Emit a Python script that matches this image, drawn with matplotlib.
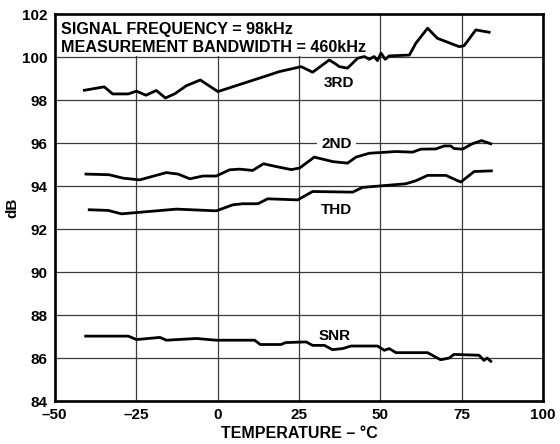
import matplotlib
matplotlib.use("Agg")
import matplotlib.pyplot as plt

plt.rcParams['font.family'] = ['Liberation Sans', 'DejaVu Sans']
plt.rcParams['font.weight'] = 'bold'

# temperature (deg C) / dB
third_t = [-40.9, -34.8, -32.2, -27.4, -24.9, -22.0, -18.8, -16.0, -13.1, -9.6, -5.3, 0.1,
           15.0, 19.0, 25.7, 29.2, 34.3, 35.9, 37.4, 39.9, 43.0, 45.1, 46.6, 48.1, 49.1,
           50.2, 51.5, 52.7, 58.9, 60.9, 64.5, 67.5, 74.2, 75.7, 79.3, 83.4]
third_db = [98.46, 98.62, 98.29, 98.29, 98.42, 98.23, 98.45, 98.10, 98.30, 98.67, 98.94, 98.40,
            99.13, 99.33, 99.56, 99.30, 99.87, 99.72, 99.56, 99.49, 99.95, 100.03, 99.90, 100.03, 99.84,
            100.19, 99.90, 100.06, 100.10, 100.65, 101.35, 100.88, 100.49, 100.53, 101.27, 101.16]

second_t = [-40.4, -33.3, -29.0, -23.9, -20.8, -15.7, -12.1, -8.5, -4.5, -0.4, 3.7, 6.8,
            10.8, 14.1, 18.0, 22.6, 25.2, 29.7, 35.4, 39.9, 42.5, 46.6, 54.8, 59.9, 62.4,
            67.0, 69.6, 71.6, 72.6, 75.2, 78.2, 81.1, 83.9]
second_db = [94.56, 94.53, 94.37, 94.29, 94.42, 94.63, 94.56, 94.34, 94.47, 94.47, 94.76, 94.79,
             94.73, 95.04, 94.91, 94.77, 94.84, 95.35, 95.14, 95.07, 95.35, 95.53, 95.61, 95.58, 95.72,
             95.73, 95.87, 95.87, 95.75, 95.72, 95.97, 96.12, 95.97]

thd_t = [-39.4, -33.6, -29.5, -24.9, -12.6, -0.4, 4.7, 7.8, 12.4, 15.4, 24.6, 29.2,
         41.5, 44.5, 57.8, 60.9, 64.5, 70.1, 74.7, 78.8, 84.1]
thd_db = [92.90, 92.87, 92.71, 92.77, 92.93, 92.85, 93.13, 93.18, 93.18, 93.41, 93.36, 93.75,
          93.72, 93.94, 94.11, 94.25, 94.50, 94.50, 94.19, 94.68, 94.71]

snr_t = [-40.5, -27.4, -24.9, -17.7, -15.7, -6.5, -0.4, 11.4, 13.1, 19.5, 20.9, 27.2,
         29.2, 32.8, 35.3, 38.4, 41.0, 49.1, 51.2, 52.7, 54.8, 64.5, 68.5, 71.1, 72.6,
         80.3, 81.8, 82.8, 83.9]
snr_db = [87.02, 87.02, 86.86, 86.96, 86.83, 86.91, 86.83, 86.83, 86.63, 86.63, 86.72, 86.75,
          86.59, 86.59, 86.39, 86.44, 86.56, 86.56, 86.36, 86.44, 86.25, 86.25, 85.92, 86.00, 86.17,
          86.13, 85.89, 86.00, 85.85]

x_ticks = [-50, -25, 0, 25, 50, 75, 100]
x_labels = ['\u201350', '\u201325', '0', '25', '50', '75', '100']
y_ticks = list(range(84, 103, 2))

fig = plt.figure(figsize=(5.6, 4.44), dpi=100)
ax = fig.add_axes([0.0977, 0.0968, 0.8723, 0.8712])

for t, db in [(third_t, third_db), (second_t, second_db), (thd_t, thd_db), (snr_t, snr_db)]:
    ax.plot(t, db, color='black', lw=2.0, zorder=3)

ax.set_xlim(-50, 100)
ax.set_ylim(84, 102)
ax.set_xticks(x_ticks)
ax.set_xticklabels(x_labels)
ax.set_yticks(y_ticks)
ax.grid(True, color='#3a3a3a', lw=0.9)
ax.tick_params(length=0, labelsize=11, pad=5)
for lab in ax.get_xticklabels() + ax.get_yticklabels():
    lab.set_fontweight('bold')
for s in ax.spines.values():
    s.set_linewidth(1.9)

ax.set_xlabel('TEMPERATURE \u2013 \u00b0C', fontsize=11.5, fontweight='bold', labelpad=3)
ax.set_ylabel('dB', fontsize=11, fontweight='bold', labelpad=2)

# white patch behind the conditions text
ax.add_patch(plt.Rectangle((-50, 100.04), 96, 1.94, facecolor='white', edgecolor='none', zorder=2))
ax.text(-48.2, 101.27, 'SIGNAL FREQUENCY = 98kHz', fontsize=11.6, fontweight='bold', va='center', zorder=4)
ax.text(-48.2, 100.47, 'MEASUREMENT BANDWIDTH = 460kHz', fontsize=11.6, fontweight='bold', va='center', zorder=4)

ax.text(37.3, 98.79, '3RD', fontsize=11, fontweight='bold', ha='center', va='center', zorder=4)
ax.text(36.6, 95.96, '2ND', fontsize=11, fontweight='bold', ha='center', va='center', zorder=4,
        bbox=dict(facecolor='white', edgecolor='none', pad=3))
ax.text(36.6, 92.91, 'THD', fontsize=11, fontweight='bold', ha='center', va='center', zorder=4)
ax.text(36.0, 87.04, 'SNR', fontsize=11, fontweight='bold', ha='center', va='center', zorder=4)

fig.savefig('out.png', dpi=100)
